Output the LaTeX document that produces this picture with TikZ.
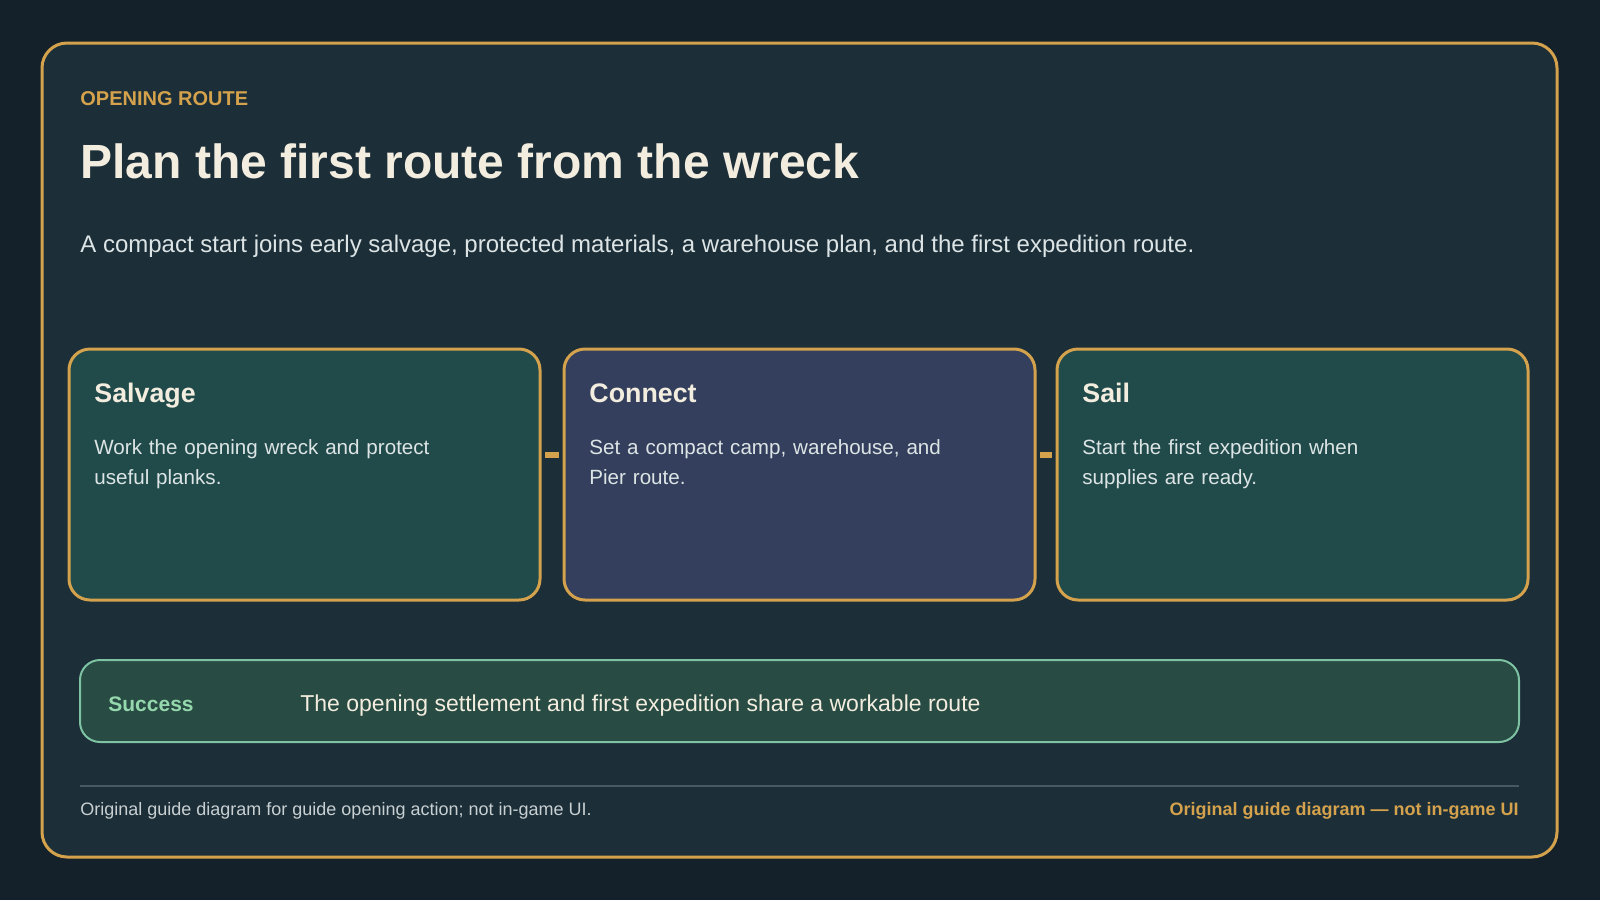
\documentclass[tikz,border=0pt]{standalone}
\usepackage{fontspec}
\setmainfont{Liberation Sans}
\definecolor{bgdark}{HTML}{14212A}
\definecolor{panelfill}{HTML}{1C2E38}
\definecolor{gold}{HTML}{D4A24C}
\definecolor{cream}{HTML}{F3EDE0}
\definecolor{bodytext}{HTML}{DCE4E5}
\definecolor{salvagefill}{HTML}{214B4A}
\definecolor{connectfill}{HTML}{333F5C}
\definecolor{successfill}{HTML}{284B43}
\definecolor{successline}{HTML}{7DC2A2}
\definecolor{successtext}{HTML}{95D8AE}
\definecolor{rulegrey}{HTML}{465A66}
\definecolor{foottext}{HTML}{C8D0D2}
\tikzset{
  card/.style={draw=gold, line width=1.5pt, rounded corners=10.5pt, outer sep=0pt,
    minimum width=235.5pt, minimum height=125.5pt, anchor=north west, inner sep=0pt},
  cardtitle/.style={anchor=base west, inner sep=0pt, text=cream,
    font=\fontsize{13.4}{16}\selectfont\bfseries},
  cardbody/.style={anchor=base west, inner sep=0pt, text=bodytext, text width=200pt,
    align=left, font=\fontsize{10.3}{15.4}\selectfont},
  link/.style={gold, line width=3pt, shorten <=2.5pt, shorten >=2.5pt},
  label/.style={inner sep=0pt, anchor=base west},
}
\begin{document}
\begin{tikzpicture}[x=0.5pt, y=-0.5pt]
  \useasboundingbox (0,0) rectangle (1600,900);
  \fill[bgdark] (0,0) rectangle (1600,900);
  \node[draw=gold, fill=panelfill, line width=1.5pt, rounded corners=12.5pt, outer sep=0pt,
    minimum width=757.5pt, minimum height=407pt, anchor=north west] (panel) at (42,43) {};

  % heading
  \node[label, text=gold, font=\fontsize{10}{12}\selectfont\bfseries] (kicker) at (80,105.3) {OPENING ROUTE};
  \node[label, text=cream, font=\fontsize{24}{28}\selectfont\bfseries] (title) at (80,178.3) {Plan the first route from the wreck};
  \node[label, text=bodytext, font=\fontsize{12}{14}\selectfont] (subtitle) at (80,252.3)
    {A compact start joins early salvage, protected materials, a warehouse plan, and the first expedition route.};

  % three stage cards
  \foreach \name/\x/\fillc/\title/\body in {
      salvage/69/salvagefill/Salvage/{Work the opening wreck and protect\\useful planks.},
      connect/564/connectfill/Connect/{Set a compact camp, warehouse, and\\Pier route.},
      sail/1057/salvagefill/Sail/{Start the first expedition when\\supplies are ready.}} {
    \node[card, fill=\fillc] (\name) at (\x,349) {};
    \node[cardtitle] (\name-title) at ([xshift=12.5pt,yshift=-26.65pt]\name.north west) {\title};
    \node[cardbody] (\name-body) at ([xshift=12.5pt,yshift=-52.5pt]\name.north west) {\body};
  }
  \draw[link] ([yshift=9.75pt]salvage.east) -- ([yshift=9.75pt]connect.west);
  \draw[link] ([yshift=9.75pt]connect.east) -- ([yshift=9.75pt]sail.west);

  % success strip
  \node[draw=successline, fill=successfill, line width=1pt, rounded corners=10pt, outer sep=0pt,
    minimum width=719.5pt, minimum height=41pt, anchor=north west] (success) at (80,660) {};
  \node[label, text=successtext, font=\fontsize{10.5}{12}\selectfont\bfseries] (success-label)
    at ([xshift=14pt,yshift=-25.5pt]success.north west) {Success};
  \node[label, text=cream, font=\fontsize{11.5}{14}\selectfont] (success-text)
    at ([xshift=110pt,yshift=-25.85pt]success.north west) {The opening settlement and first expedition share a workable route};

  % footer
  \draw[rulegrey, line width=0.8pt] (80,786) -- (1519,786);
  \node[label, text=foottext, font=\fontsize{9}{11}\selectfont] (footnote) at (80,815.7)
    {Original guide diagram for guide opening action; not in-game UI.};
  \node[label, anchor=base east, text=gold, font=\fontsize{9}{11}\selectfont\bfseries] (footbrand) at (1519,815.7)
    {Original guide diagram — not in-game UI};
\end{tikzpicture}
\end{document}
